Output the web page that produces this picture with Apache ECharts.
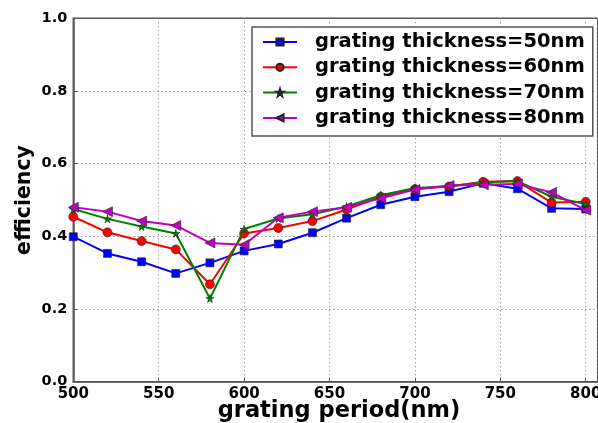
<!DOCTYPE html>
<html><head><meta charset="utf-8">
<script src="https://cdn.jsdelivr.net/npm/echarts@6/dist/echarts.min.js"></script>
<style>html,body{margin:0;padding:0;background:#fff}#c{width:598px;height:423px}</style>
</head><body><div id="c"></div>
<script>
const periods = [500,520,540,560,580,600,620,640,660,680,700,720,740,760,780,800];
const t50 = [0.399,0.353,0.330,0.298,0.327,0.360,0.379,0.410,0.450,0.487,0.509,0.523,0.546,0.531,0.477,0.475];
const t60 = [0.454,0.411,0.387,0.364,0.268,0.408,0.423,0.442,0.474,0.509,0.530,0.537,0.550,0.552,0.493,0.495];
const t70 = [0.475,0.448,0.427,0.408,0.229,0.420,0.449,0.461,0.482,0.513,0.533,0.538,0.548,0.552,0.509,0.489];
const t80 = [0.480,0.468,0.442,0.430,0.382,0.377,0.451,0.468,0.480,0.505,0.529,0.540,0.542,0.544,0.521,0.472];
const names = ['grating thickness=50nm','grating thickness=60nm','grating thickness=70nm','grating thickness=80nm'];
const xTicks = [500,550,600,650,700,750,800];
const yTicks = [0.0,0.2,0.4,0.6,0.8,1.0];

const star = 'path://M50,0 L61,35 L98,35 L68,57 L79,91 L50,70 L21,91 L32,57 L2,35 L39,35 Z';
const colors = ['#0000ff','#ff0000','#008000','#bf00bf'];
const symbols = ['rect','circle',star,'triangle'];
const sizes = [8,9,8,10];
const rots = [0,0,0,90];
const datas = [t50,t60,t70,t80];
const font = 'DejaVu Sans';

const chart = echarts.init(document.getElementById('c'), null, {renderer:'canvas'});
chart.setOption({
  animation:false,
  textStyle:{fontFamily:font},
  grid:{left:73.3, top:18.3, width:524.4, height:363.4, show:true, borderColor:'#555', borderWidth:1.5,
        containLabel:false, outerBoundsMode:'none'},
  legend:{
    data:names, orient:'vertical', left:252, top:27,
    backgroundColor:'#fff', borderColor:'#555', borderWidth:1.5,
    padding:[5,8,8,10], itemWidth:34, itemHeight:9, itemGap:5.3,
    textStyle:{fontFamily:font, fontWeight:'bold', fontSize:19.5, color:'#000', padding:[0,0,0,13]}
  },
  xAxis:{
    type:'value', min:500, max:807, interval:50,
    name:'grating period(nm)', nameLocation:'middle', nameGap:17.5, nameMoveOverlap:false,
    nameTextStyle:{fontFamily:font, fontWeight:'bold', fontSize:22.5, color:'#000', padding:[0,0,0,7]},
    axisLine:{show:true, lineStyle:{color:'#555', width:1.5}},
    axisTick:{show:true, inside:true, length:4, lineStyle:{color:'#555'}},
    axisLabel:{fontFamily:font, fontWeight:'bold', fontSize:15, color:'#000', margin:5,
      formatter:v => xTicks.indexOf(v) >= 0 ? String(v) : ''},
    splitLine:{show:true, lineStyle:{type:[1,3], color:'#777', width:1}}
  },
  yAxis:{
    type:'value', min:0, max:1, interval:0.2,
    name:'efficiency', nameLocation:'middle', nameGap:38, nameMoveOverlap:false,
    nameTextStyle:{fontFamily:font, fontWeight:'bold', fontSize:20.5, color:'#000'},
    axisLine:{show:true, lineStyle:{color:'#555', width:1.5}},
    axisTick:{show:true, inside:true, length:4, lineStyle:{color:'#555'}},
    axisLabel:{fontFamily:font, fontWeight:'bold', fontSize:14.5, color:'#000', margin:6,
      formatter:v => { const t = yTicks.find(k => Math.abs(k - v) < 1e-9); return t === undefined ? '' : t.toFixed(1); }},
    splitLine:{show:true, lineStyle:{type:[1,3], color:'#777', width:1}}
  },
  series: names.map((n,i) => ({
    name:n, type:'line', data: periods.map((p,j) => [p, datas[i][j]]),
    symbol:symbols[i], symbolSize:sizes[i], symbolRotate:rots[i],
    showAllSymbol:true,
    lineStyle:{color:colors[i], width:2},
    itemStyle:{color:colors[i], borderColor:'#222', borderWidth:0.6},
    z: 2 + i
  }))
});
</script></body></html>
